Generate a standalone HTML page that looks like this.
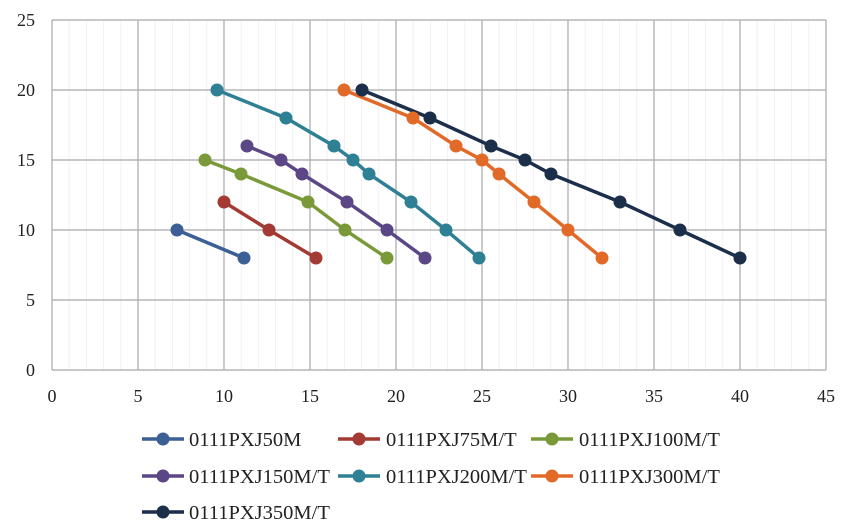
<!DOCTYPE html><html><head><style>body{margin:0;background:#fff}svg text{font-family:"Liberation Serif",serif;fill:#222}</style></head><body>
<svg width="850" height="525" xmlns="http://www.w3.org/2000/svg">
<g stroke="#f0f1f3" stroke-width="1">
<line x1="69.2" y1="20" x2="69.2" y2="370"/><line x1="86.4" y1="20" x2="86.4" y2="370"/><line x1="103.6" y1="20" x2="103.6" y2="370"/><line x1="120.8" y1="20" x2="120.8" y2="370"/>
<line x1="155.2" y1="20" x2="155.2" y2="370"/><line x1="172.4" y1="20" x2="172.4" y2="370"/><line x1="189.6" y1="20" x2="189.6" y2="370"/><line x1="206.8" y1="20" x2="206.8" y2="370"/>
<line x1="241.2" y1="20" x2="241.2" y2="370"/><line x1="258.4" y1="20" x2="258.4" y2="370"/><line x1="275.6" y1="20" x2="275.6" y2="370"/><line x1="292.8" y1="20" x2="292.8" y2="370"/>
<line x1="327.2" y1="20" x2="327.2" y2="370"/><line x1="344.4" y1="20" x2="344.4" y2="370"/><line x1="361.6" y1="20" x2="361.6" y2="370"/><line x1="378.8" y1="20" x2="378.8" y2="370"/>
<line x1="413.2" y1="20" x2="413.2" y2="370"/><line x1="430.4" y1="20" x2="430.4" y2="370"/><line x1="447.6" y1="20" x2="447.6" y2="370"/><line x1="464.8" y1="20" x2="464.8" y2="370"/>
<line x1="499.2" y1="20" x2="499.2" y2="370"/><line x1="516.4" y1="20" x2="516.4" y2="370"/><line x1="533.6" y1="20" x2="533.6" y2="370"/><line x1="550.8" y1="20" x2="550.8" y2="370"/>
<line x1="585.2" y1="20" x2="585.2" y2="370"/><line x1="602.4" y1="20" x2="602.4" y2="370"/><line x1="619.6" y1="20" x2="619.6" y2="370"/><line x1="636.8" y1="20" x2="636.8" y2="370"/>
<line x1="671.2" y1="20" x2="671.2" y2="370"/><line x1="688.4" y1="20" x2="688.4" y2="370"/><line x1="705.6" y1="20" x2="705.6" y2="370"/><line x1="722.8" y1="20" x2="722.8" y2="370"/>
<line x1="757.2" y1="20" x2="757.2" y2="370"/><line x1="774.4" y1="20" x2="774.4" y2="370"/><line x1="791.6" y1="20" x2="791.6" y2="370"/><line x1="808.8" y1="20" x2="808.8" y2="370"/>
</g>
<g stroke="#a8a8ac" stroke-width="1.2">
<line x1="52" y1="20" x2="52" y2="370"/><line x1="138" y1="20" x2="138" y2="370"/><line x1="224" y1="20" x2="224" y2="370"/><line x1="310" y1="20" x2="310" y2="370"/><line x1="396" y1="20" x2="396" y2="370"/><line x1="482" y1="20" x2="482" y2="370"/><line x1="568" y1="20" x2="568" y2="370"/><line x1="654" y1="20" x2="654" y2="370"/><line x1="740" y1="20" x2="740" y2="370"/><line x1="826" y1="20" x2="826" y2="370"/>
<line x1="52" y1="20" x2="826" y2="20"/><line x1="52" y1="90" x2="826" y2="90"/><line x1="52" y1="160" x2="826" y2="160"/><line x1="52" y1="230" x2="826" y2="230"/><line x1="52" y1="300" x2="826" y2="300"/><line x1="52" y1="370" x2="826" y2="370"/>
</g>
<g font-size="18" text-anchor="end"><text x="35" y="26">25</text><text x="35" y="96">20</text><text x="35" y="166">15</text><text x="35" y="236">10</text><text x="35" y="306">5</text><text x="35" y="376">0</text></g>
<g font-size="18" text-anchor="middle"><text x="52" y="402">0</text><text x="138" y="402">5</text><text x="224" y="402">10</text><text x="310" y="402">15</text><text x="396" y="402">20</text><text x="482" y="402">25</text><text x="568" y="402">30</text><text x="654" y="402">35</text><text x="740" y="402">40</text><text x="826" y="402">45</text></g>
<g fill="none" stroke-width="3.5">
<polyline stroke="#3c5f96" points="177,230 244,258"/>
<polyline stroke="#a33a33" points="224,202 269,230 316,258"/>
<polyline stroke="#7a9a3a" points="205,160 241,174 308,202 345,230 387,258"/>
<polyline stroke="#5b4785" points="247,146 281,160 302,174 347,202 387,230 425,258"/>
<polyline stroke="#2f8094" points="217,90 286,118 334,146 353,160 369,174 411,202 446,230 479,258"/>
<polyline stroke="#e26a28" points="344,90 413,118 456,146 482,160 499,174 534,202 568,230 602,258"/>
<polyline stroke="#1b2f4a" points="362,90 430,118 491,146 525,160 551,174 620,202 680,230 740,258"/>
</g>
<g fill="#3c5f96"><circle cx="177" cy="230" r="6.5"/><circle cx="244" cy="258" r="6.5"/></g>
<g fill="#a33a33"><circle cx="224" cy="202" r="6.5"/><circle cx="269" cy="230" r="6.5"/><circle cx="316" cy="258" r="6.5"/></g>
<g fill="#7a9a3a"><circle cx="205" cy="160" r="6.5"/><circle cx="241" cy="174" r="6.5"/><circle cx="308" cy="202" r="6.5"/><circle cx="345" cy="230" r="6.5"/><circle cx="387" cy="258" r="6.5"/></g>
<g fill="#5b4785"><circle cx="247" cy="146" r="6.5"/><circle cx="281" cy="160" r="6.5"/><circle cx="302" cy="174" r="6.5"/><circle cx="347" cy="202" r="6.5"/><circle cx="387" cy="230" r="6.5"/><circle cx="425" cy="258" r="6.5"/></g>
<g fill="#2f8094"><circle cx="217" cy="90" r="6.5"/><circle cx="286" cy="118" r="6.5"/><circle cx="334" cy="146" r="6.5"/><circle cx="353" cy="160" r="6.5"/><circle cx="369" cy="174" r="6.5"/><circle cx="411" cy="202" r="6.5"/><circle cx="446" cy="230" r="6.5"/><circle cx="479" cy="258" r="6.5"/></g>
<g fill="#e26a28"><circle cx="344" cy="90" r="6.5"/><circle cx="413" cy="118" r="6.5"/><circle cx="456" cy="146" r="6.5"/><circle cx="482" cy="160" r="6.5"/><circle cx="499" cy="174" r="6.5"/><circle cx="534" cy="202" r="6.5"/><circle cx="568" cy="230" r="6.5"/><circle cx="602" cy="258" r="6.5"/></g>
<g fill="#1b2f4a"><circle cx="362" cy="90" r="6.5"/><circle cx="430" cy="118" r="6.5"/><circle cx="491" cy="146" r="6.5"/><circle cx="525" cy="160" r="6.5"/><circle cx="551" cy="174" r="6.5"/><circle cx="620" cy="202" r="6.5"/><circle cx="680" cy="230" r="6.5"/><circle cx="740" cy="258" r="6.5"/></g>
<g stroke-width="3.5">
<line x1="142" y1="439" x2="184" y2="439" stroke="#3c5f96"/><circle cx="163" cy="439" r="6.5" fill="#3c5f96"/>
<line x1="338" y1="439" x2="380" y2="439" stroke="#a33a33"/><circle cx="359" cy="439" r="6.5" fill="#a33a33"/>
<line x1="531" y1="439" x2="573" y2="439" stroke="#7a9a3a"/><circle cx="552" cy="439" r="6.5" fill="#7a9a3a"/>
<line x1="142" y1="476" x2="184" y2="476" stroke="#5b4785"/><circle cx="163" cy="476" r="6.5" fill="#5b4785"/>
<line x1="338" y1="476" x2="380" y2="476" stroke="#2f8094"/><circle cx="359" cy="476" r="6.5" fill="#2f8094"/>
<line x1="531" y1="476" x2="573" y2="476" stroke="#e26a28"/><circle cx="552" cy="476" r="6.5" fill="#e26a28"/>
<line x1="142" y1="512" x2="184" y2="512" stroke="#1b2f4a"/><circle cx="163" cy="512" r="6.5" fill="#1b2f4a"/>
</g>
<g font-size="20.5">
<text x="189" y="446">0111PXJ50M</text><text x="386" y="446">0111PXJ75M/T</text><text x="579" y="446">0111PXJ100M/T</text>
<text x="189" y="483">0111PXJ150M/T</text><text x="386" y="483">0111PXJ200M/T</text><text x="579" y="483">0111PXJ300M/T</text>
<text x="189" y="519">0111PXJ350M/T</text>
</g>
</svg>
</body></html>
